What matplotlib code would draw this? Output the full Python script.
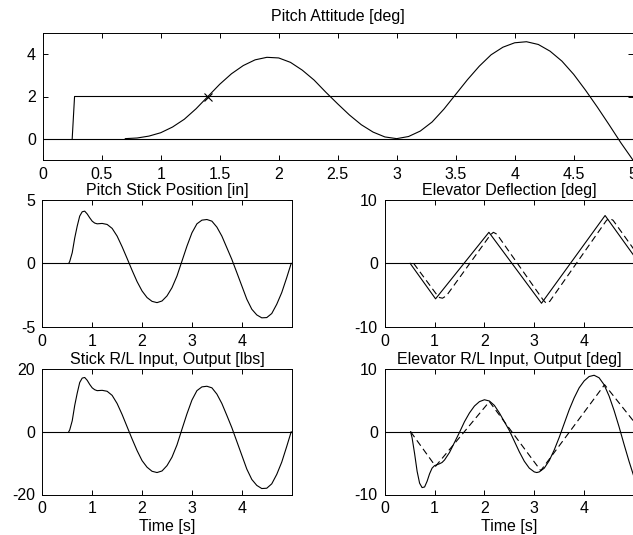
import matplotlib
matplotlib.use("Agg")
import matplotlib.pyplot as plt

plt.rcParams['font.family'] = ['Liberation Sans', 'DejaVu Sans']
plt.rcParams['font.size'] = 11.5
plt.rcParams['axes.unicode_minus'] = False

# ---------------- data ----------------
# Pitch attitude
att_ref_t = [0.25, 0.27, 5.0]
att_ref_v = [0.0, 2.0, 2.0]
att_t = [0.7, 0.8, 0.9, 1.0, 1.1, 1.2, 1.3, 1.4, 1.5, 1.6, 1.7, 1.8, 1.9, 2.0,
         2.1, 2.2, 2.3, 2.4, 2.5, 2.6, 2.7, 2.8, 2.9, 3.0, 3.1, 3.2, 3.3, 3.4, 3.5,
         3.6, 3.7, 3.8, 3.9, 4.0, 4.1, 4.2, 4.3, 4.4, 4.5, 4.6, 4.7, 4.8, 4.9, 5.0]
att_v = [0, 0.03, 0.12, 0.28, 0.55, 0.92, 1.42, 2.0, 2.58, 3.08, 3.47, 3.74, 3.86, 3.83,
         3.62, 3.25, 2.78, 2.2, 1.65, 1.12, 0.66, 0.31, 0.08, 0.0, 0.1, 0.36, 0.79, 1.4, 2.1,
         2.8, 3.44, 3.98, 4.34, 4.55, 4.6, 4.47, 4.15, 3.68, 3.05, 2.3, 1.5, 0.66, -0.2, -1.0]
att_mark_t = [1.4]
att_mark_v = [2.0]

# Pitch stick position and stick force
stick_t = [0.53, 0.55, 0.6, 0.65, 0.7, 0.75, 0.8, 0.85, 0.9, 0.95, 1.0, 1.05, 1.1,
           1.2, 1.3, 1.4, 1.5, 1.6, 1.7, 1.8, 1.9, 2.0, 2.1, 2.2, 2.3, 2.4, 2.5, 2.6, 2.7,
           2.8, 2.9, 3.0, 3.1, 3.2, 3.3, 3.4, 3.5, 3.6, 3.7, 3.8, 3.9, 4.0, 4.1, 4.2, 4.3,
           4.4, 4.5, 4.6, 4.7, 4.8, 4.9, 4.99]
stick_pos = [0, 0.15, 0.84, 2.0, 2.94, 3.73, 4.07, 4.12, 3.9, 3.6, 3.33, 3.18, 3.12,
             3.15, 3.07, 2.76, 2.15, 1.31, 0.39, -0.55, -1.44, -2.18, -2.7, -3.0, -3.1,
             -2.97, -2.57, -1.92, -1.0, 0.18, 1.36, 2.41, 3.12, 3.41, 3.46, 3.33, 2.86,
             2.15, 1.23, 0.31, -0.73, -1.78, -2.83, -3.62, -4.07, -4.3, -4.28, -3.96,
             -3.23, -2.31, -1.13, 0.0]
stick_force = [0, 0.6, 3.5, 8.4, 12.3, 15.7, 17.1, 17.3, 16.4, 15.1, 14.0, 13.4, 13.1,
               13.2, 12.9, 11.6, 9.0, 5.5, 1.6, -2.3, -6.0, -9.2, -11.3, -12.6, -13.0,
               -12.5, -10.8, -8.1, -4.2, 0.8, 5.7, 10.1, 13.1, 14.3, 14.5, 14.0, 12.0,
               9.0, 5.2, 1.3, -3.1, -7.5, -11.9, -15.2, -17.1, -18.1, -18.0, -16.6,
               -13.6, -9.7, -4.7, 0.0]

# Elevator deflection
elev_t = [0.51, 1.02, 2.09, 3.145, 4.42, 4.99]
elev_v = [0, -5.6, 4.9, -6.3, 7.55, 1.3]
elev_lag_t = [0.58, 1.04, 1.10, 1.16, 1.24, 2.12, 2.18, 2.25, 3.18, 3.24, 3.31,
              4.45, 4.51, 4.58, 4.99]
elev_lag_v = [0, -4.9, -5.4, -5.5, -5.1, 4.5, 4.9, 4.6, -5.8, -6.3, -6.0,
              6.8, 7.1, 6.8, 2.3]

# Elevator R/L input / output
rl_in_t = [0.52, 1.02, 2.1, 3.13, 4.41, 4.99]
rl_in_v = [0, -5.5, 4.8, -6.2, 7.5, 1.7]
rl_out_t = [0.52, 0.55, 0.6, 0.65, 0.7, 0.75, 0.8, 0.85, 0.9, 0.95, 1.0, 1.05, 1.1,
            1.15, 1.2, 1.3, 1.4, 1.5, 1.6, 1.7, 1.8, 1.9, 2.0, 2.1, 2.2, 2.3, 2.4, 2.5,
            2.6, 2.7, 2.8, 2.9, 3.0, 3.05, 3.1, 3.2, 3.3, 3.4, 3.5, 3.6, 3.7, 3.8, 3.9,
            4.0, 4.1, 4.2, 4.3, 4.4, 4.5, 4.6, 4.7, 4.8, 4.9, 5.0]
rl_out_v = [0, -1.0, -3.5, -6.3, -8.2, -8.9, -8.8, -7.9, -6.7, -5.8, -5.4, -5.25, -5.1,
            -4.9, -4.5, -3.3, -1.7, -0.1, 1.6, 3.0, 4.1, 4.8, 5.1, 4.9, 4.2, 3.0, 1.6, 0.2,
            -1.5, -3.2, -4.7, -5.8, -6.4, -6.5, -6.4, -5.8, -4.6, -2.9, -0.9, 1.3, 3.5,
            5.4, 7.0, 8.1, 8.8, 9.0, 8.6, 7.5, 5.7, 3.4, 0.8, -2.0, -4.7, -7.2]

titles = ["Pitch Attitude [deg]", "Pitch Stick Position [in]", "Elevator Deflection [deg]",
          "Stick R/L Input, Output [lbs]", "Elevator R/L Input, Output [deg]"]
top_xticks = [0, 0.5, 1, 1.5, 2, 2.5, 3, 3.5, 4, 4.5, 5]
top_xticklabels = ["0", "0.5", "1", "1.5", "2", "2.5", "3", "3.5", "4", "4.5", "5"]
low_xticks = [0, 1, 2, 3, 4]

# ---------------- figure ----------------
W, H = 633, 535
fig = plt.figure(figsize=(W / 100, H / 100), dpi=100)

def frac(x0, y0, x1, y1):
    return [x0 / W, 1 - y1 / H, (x1 - x0) / W, (y1 - y0) / H]

LW = 0.8
FS = 11.5
dash = (0, (6, 3.5))

def style(ax):
    ax.tick_params(direction='in', top=True, right=True, length=3.5, width=0.7,
                   pad=5, labelsize=FS)
    for s in ax.spines.values():
        s.set_linewidth(0.7)

# Top
ax0 = fig.add_axes(frac(42.7, 33.3, 632.7, 159.7))
ax0.axhline(0, color='k', lw=LW)
ax0.plot(att_ref_t, att_ref_v, color='k', lw=LW)
ax0.plot(att_t, att_v, color='k', lw=LW)
ax0.plot(att_mark_t, att_mark_v, 'x', color='k', ms=6, mew=0.8)
ax0.set_xlim(0, 5)
ax0.set_ylim(-1, 5)
ax0.set_xticks(top_xticks)
ax0.set_xticklabels(top_xticklabels)
ax0.set_yticks([0, 2, 4])
ax0.set_title(titles[0], fontsize=FS, pad=8.5)
style(ax0)

# Middle left
ax1 = fig.add_axes(frac(42.3, 200, 291.7, 326.7))
ax1.axhline(0, color='k', lw=LW)
ax1.plot(stick_t, stick_pos, color='k', lw=LW)
ax1.set_xlim(0, 5)
ax1.set_ylim(-5, 5)
ax1.set_xticks(low_xticks)
ax1.set_yticks([-5, 0, 5])
ax1.set_title(titles[1], fontsize=FS, pad=3.5)
style(ax1)

# Middle right
ax2 = fig.add_axes(frac(384.7, 200, 634.0, 326.7))
ax2.axhline(0, color='k', lw=LW)
ax2.plot(elev_t, elev_v, color='k', lw=LW)
ax2.plot(elev_lag_t, elev_lag_v, color='k', lw=LW, linestyle=dash)
ax2.set_xlim(0, 5)
ax2.set_ylim(-10, 10)
ax2.set_xticks(low_xticks)
ax2.set_yticks([-10, 0, 10])
ax2.set_title(titles[2], fontsize=FS, pad=3.5)
style(ax2)

# Bottom left
ax3 = fig.add_axes(frac(42.3, 369, 291.7, 494.5))
ax3.axhline(0, color='k', lw=LW)
ax3.plot(stick_t, stick_force, color='k', lw=LW)
ax3.set_xlim(0, 5)
ax3.set_ylim(-20, 20)
ax3.set_xticks(low_xticks)
ax3.set_yticks([-20, 0, 20])
ax3.set_title(titles[3], fontsize=FS, pad=3.5)
ax3.set_xlabel("Time [s]", fontsize=FS, labelpad=2)
style(ax3)

# Bottom right
ax4 = fig.add_axes(frac(384.7, 369, 634.0, 494.5))
ax4.axhline(0, color='k', lw=LW)
ax4.plot(rl_out_t, rl_out_v, color='k', lw=LW)
ax4.plot(rl_in_t, rl_in_v, color='k', lw=LW, linestyle=dash)
ax4.set_xlim(0, 5)
ax4.set_ylim(-10, 10)
ax4.set_xticks(low_xticks)
ax4.set_yticks([-10, 0, 10])
ax4.set_title(titles[4], fontsize=FS, pad=3.5)
ax4.set_xlabel("Time [s]", fontsize=FS, labelpad=2)
style(ax4)

fig.savefig("out.png", dpi=100)
